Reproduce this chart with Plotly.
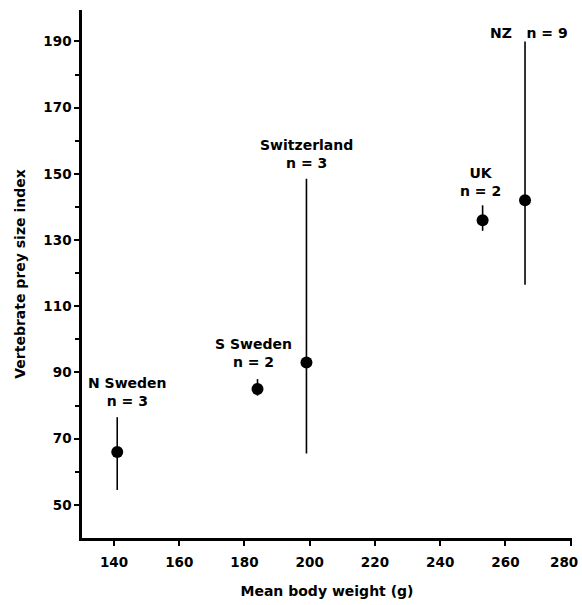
import plotly.graph_objects as go

sites = ["N Sweden", "S Sweden", "Switzerland", "UK", "NZ"]
n_values = [3, 2, 3, 2, 9]
body_weight = [141, 184, 199, 253, 266]
prey_index = [66, 85, 93, 136, 142]
range_low = [54.5, 83, 65.5, 132.8, 116.5]
range_high = [76.5, 88, 148.5, 140.5, 190]
x_ticks = [140, 160, 180, 200, 220, 240, 260, 280]
y_ticks = [50, 70, 90, 110, 130, 150, 170, 190]
y_minor = [60, 80, 100, 120, 140, 160, 180]

err_plus = [h - m for h, m in zip(range_high, prey_index)]
err_minus = [m - l for m, l in zip(prey_index, range_low)]

fig = go.Figure()
fig.add_trace(go.Scatter(
    x=body_weight, y=prey_index, mode="markers",
    marker=dict(color="black", size=12),
    error_y=dict(type="data", symmetric=False, array=err_plus, arrayminus=err_minus,
                 width=0, thickness=1.6, color="black"),
    showlegend=False,
))

FAM = "DejaVu Sans, Liberation Sans, Arial, sans-serif"
font = dict(family=FAM, size=14, color="black", weight="bold")
tick_font = dict(family=FAM, size=13.5, color="black", weight="bold")

label_texts = [
    "N Sweden<br>n = 3",
    "S Sweden<br>n = 2",
    "Switzerland<br>n = 3",
    "UK<br>n = 2",
    "NZ   n = 9",
]
label_pos = [(144.0, 84.0), (182.8, 95.9), (198.9, 155.9), (252.3, 147.5), (267.3, 192.7)]
for t, (lx, ly) in zip(label_texts, label_pos):
    fig.add_annotation(x=lx, y=ly, text=t, showarrow=False, font=font,
                       xanchor="center", yanchor="middle", align="center")

# last x tick label drawn as annotation so it stays inside the page (as in the reference)
x_ticktext = [str(v) for v in x_ticks[:-1]] + [""]
fig.add_annotation(x=x_ticks[-1], xref="x", y=0, yref="paper", text=str(x_ticks[-1]),
                   showarrow=False, font=tick_font, xanchor="center", yanchor="middle",
                   xshift=-7, yshift=-24)

fig.update_layout(
    width=582, height=605,
    margin=dict(l=82, r=10, t=10, b=67, autoexpand=False),
    paper_bgcolor="white", plot_bgcolor="white",
    font=font,
    xaxis=dict(range=[130.2, 280.4], tickvals=x_ticks, ticktext=x_ticktext,
               showline=True, linecolor="black", linewidth=2.5, ticks="outside",
               ticklen=5, tickwidth=1.5, tickcolor="black", showgrid=False, zeroline=False,
               tickfont=tick_font, ticklabelstandoff=5, automargin=False,
               title=dict(text="Mean body weight (g)", font=font, standoff=18)),
    yaxis=dict(range=[40, 199.5], tickvals=y_ticks,
               showline=True, linecolor="black", linewidth=2.5, ticks="outside",
               ticklen=5, tickwidth=1.5, tickcolor="black", showgrid=False, zeroline=False,
               tickfont=tick_font, automargin=False,
               minor=dict(tickvals=y_minor, ticks="outside",
                          ticklen=4, tickwidth=1.5, tickcolor="black", showgrid=False),
               title=dict(text="Vertebrate prey size index", font=font, standoff=15)),
)

fig.write_html("out.html")
